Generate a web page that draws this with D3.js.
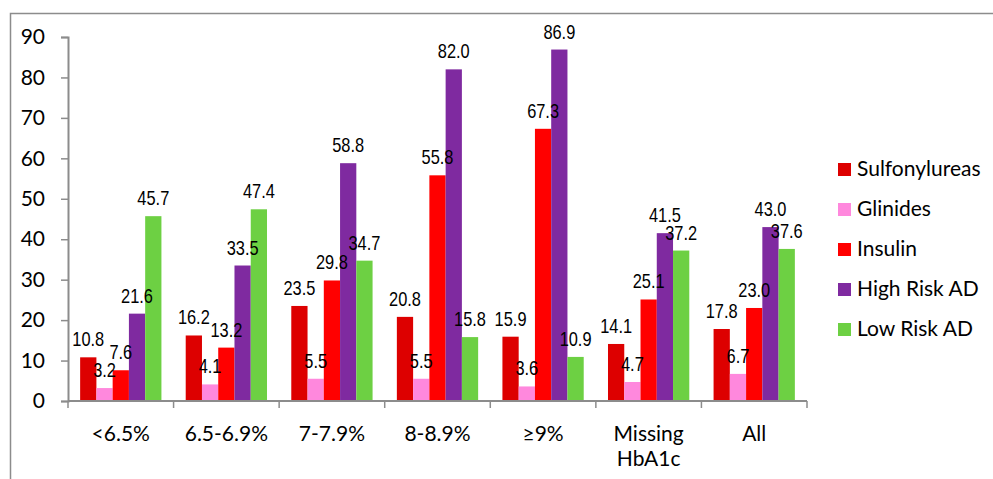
<!DOCTYPE html>
<html>
<head>
<meta charset="utf-8">
<script src="https://cdn.jsdelivr.net/npm/d3@7"></script>
<style>
  body { margin: 0; background: #fff; }
  svg { display: block; }
</style>
</head>
<body>
<div id="chart"></div>
<script>
var width = 993,
    height = 479;

// data
var categories = ["<6.5%", "6.5-6.9%", "7-7.9%", "8-8.9%", "\u22659%", "Missing HbA1c", "All"];
var seriesNames = ["Sulfonylureas", "Glinides", "Insulin", "High Risk AD", "Low Risk AD"];
var sulfonylureas = [10.8, 16.2, 23.5, 20.8, 15.9, 14.1, 17.8];
var glinides      = [3.2, 4.1, 5.5, 5.5, 3.6, 4.7, 6.7];
var insulin       = [7.6, 13.2, 29.8, 55.8, 67.3, 25.1, 23.0];
var highRisk      = [21.6, 33.5, 58.8, 82.0, 86.9, 41.5, 43.0];
var lowRisk       = [45.7, 47.4, 34.7, 15.8, 10.9, 37.2, 37.6];
var yTicks = [0, 10, 20, 30, 40, 50, 60, 70, 80, 90];

var colors = ["#dd0000", "#ff88dd", "#ff0000", "#7f2aa0", "#6dd043"];
var series = [sulfonylureas, glinides, insulin, highRisk, lowRisk];

var svg = d3.select("#chart").append("svg")
    .attr("width", width)
    .attr("height", height);

// outer frame
svg.append("rect")
    .attr("x", 10.5)
    .attr("y", 13.5)
    .attr("width", 1000)
    .attr("height", 500)
    .attr("fill", "none")
    .attr("stroke", "#8c8c8c")
    .attr("stroke-width", 1.5);

var plotLeft = 68, plotRight = 807, plotTop = 37, plotBottom = 401;

var x = d3.scaleBand()
    .domain(categories)
    .range([plotLeft, plotRight])
    .paddingInner(0.23)
    .paddingOuter(0.115);

var x1 = d3.scaleBand()
    .domain(d3.range(seriesNames.length))
    .range([0, x.bandwidth()]);

var y = d3.scaleLinear()
    .domain([0, 90])
    .range([plotBottom, plotTop]);

// bars
var groups = svg.selectAll("g.cat")
    .data(categories)
    .enter().append("g")
    .attr("class", "cat")
    .attr("transform", function(d) { return "translate(" + x(d) + ",0)"; });

groups.each(function(c, ci) {
  var g = d3.select(this);
  series.forEach(function(s, si) {
    g.append("rect")
      .attr("x", x1(si))
      .attr("y", y(s[ci]))
      .attr("width", x1.bandwidth())
      .attr("height", plotBottom - y(s[ci]))
      .attr("fill", colors[si]);
  });
  // value labels, narrow font
  series.forEach(function(s, si) {
    g.append("text")
      .attr("transform", "translate(" + (x1(si) + x1.bandwidth() / 2) + "," + (y(s[ci]) - 11) + ") scale(0.82,1)")
      .attr("text-anchor", "middle")
      .attr("font-family", "'Liberation Sans', Arial, sans-serif")
      .attr("font-size", "20px")
      .attr("fill", "#000")
      .text(d3.format(".1f")(s[ci]));
  });
});

// y axis
var yAxis = svg.append("g")
    .attr("transform", "translate(" + plotLeft + ",0)")
    .call(d3.axisLeft(y).tickValues(yTicks).tickSize(7).tickPadding(16));
yAxis.select(".domain").attr("stroke", "#8c8c8c").attr("stroke-width", 2);
yAxis.selectAll(".tick line").attr("stroke", "#8c8c8c").attr("stroke-width", 1.5);
yAxis.selectAll(".tick text")
    .attr("font-family", "Lato, 'Open Sans', sans-serif")
    .attr("font-size", "21px")
    .attr("fill", "#000");

// x axis line and boundary ticks
svg.append("line")
    .attr("x1", plotLeft).attr("x2", plotRight)
    .attr("y1", plotBottom).attr("y2", plotBottom)
    .attr("stroke", "#8c8c8c").attr("stroke-width", 2);

var step = (plotRight - plotLeft) / categories.length;
svg.selectAll("line.sep")
    .data(d3.range(categories.length + 1))
    .enter().append("line")
    .attr("class", "sep")
    .attr("x1", function(d) { return plotLeft + d * step; })
    .attr("x2", function(d) { return plotLeft + d * step; })
    .attr("y1", plotBottom)
    .attr("y2", plotBottom + 7)
    .attr("stroke", "#8c8c8c").attr("stroke-width", 1.5);

// category labels
svg.selectAll("text.catlabel")
    .data(categories)
    .enter().append("text")
    .attr("class", "catlabel")
    .attr("x", function(d) { return x(d) + x.bandwidth() / 2; })
    .attr("y", 441)
    .attr("text-anchor", "middle")
    .attr("font-family", "Lato, 'Open Sans', sans-serif")
    .attr("font-size", "21px")
    .attr("fill", "#000")
    .each(function(d) {
      var parts = d === "Missing HbA1c" ? ["Missing", "HbA1c"] : [d];
      var t = d3.select(this);
      parts.forEach(function(p, i) {
        t.append("tspan")
          .attr("x", x(d) + x.bandwidth() / 2)
          .attr("dy", i === 0 ? 0 : 25)
          .text(p);
      });
    });

// legend
var legend = svg.append("g")
    .attr("transform", "translate(838,169)");

seriesNames.forEach(function(name, i) {
  legend.append("rect")
    .attr("x", 0)
    .attr("y", i * 40 - 6)
    .attr("width", 13)
    .attr("height", 13)
    .attr("fill", colors[i]);
  legend.append("text")
    .attr("x", 19)
    .attr("y", i * 40 + 7)
    .attr("font-family", "Lato, 'Open Sans', sans-serif")
    .attr("font-size", "21px")
    .attr("fill", "#000")
    .text(name);
});
</script>
</body>
</html>
